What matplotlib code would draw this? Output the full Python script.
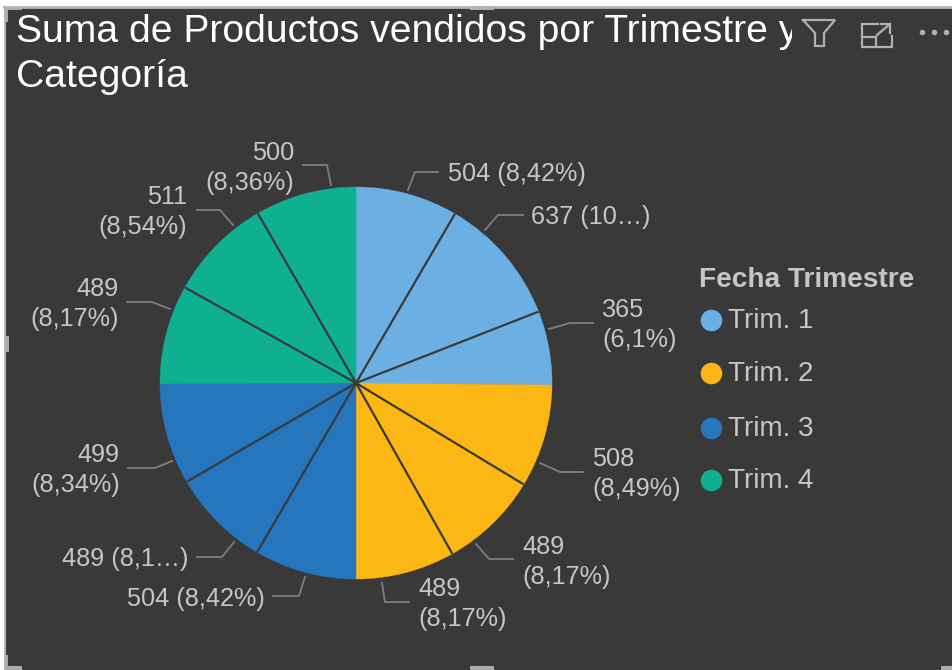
import numpy as np
import matplotlib
matplotlib.use("Agg")
import matplotlib.pyplot as plt
from matplotlib.patches import Rectangle
from matplotlib.transforms import Bbox

values = [504, 637, 365, 508, 489, 489, 504, 489, 499, 489, 511, 500]
quarters = [0, 0, 0, 1, 1, 1, 2, 2, 2, 3, 3, 3]
value_labels = ["504 (8,42%)", "637 (10…)", "365\n(6,1%)", "508\n(8,49%)", "489\n(8,17%)", "489\n(8,17%)",
                "504 (8,42%)", "489 (8,1…)", "499\n(8,34%)", "489\n(8,17%)", "511\n(8,54%)", "500\n(8,36%)"]
legend_title = "Fecha Trimestre"
legend_labels = ["Trim. 1", "Trim. 2", "Trim. 3", "Trim. 4"]
colors = ["#6CB0E3", "#FDB714", "#2676BD", "#0FB08F"]
title_lines = ["Suma de Productos vendidos por Trimestre y", "Categoría"]

BG = "#393939"; TXT = "#C6C6C6"; LEAD = "#7E7E7E"; ICON = "#B0B0B0"
W, H = 952, 670
plt.rcParams["font.family"] = ["Liberation Sans", "DejaVu Sans"]
fig = plt.figure(figsize=(W/100, H/100), dpi=100, facecolor="white")
ax = fig.add_axes([0, 0, 1, 1])
Y = lambda y: H - y

ax.add_patch(Rectangle((4, -2), W, H - 5, fc=BG, ec="none"))
ax.plot([4, W], [Y(7), Y(7)], color="#B4B4B4", lw=2)
ax.plot([4.5, 4.5], [0, Y(7)], color="#B4B4B4", lw=1.5)
# selection handles of the visual frame: x, y, w, h in image pixels
for hx, hy, hw, hh in [(4, 7, 18, 3), (4, 7, 4, 15), (470, 6, 24, 4), (4, 336, 5, 16),
                       (470, 666, 24, 4), (4, 655, 4, 15), (4, 666, 18, 4), (941, 666, 11, 4)]:
    ax.add_patch(Rectangle((hx, Y(hy + hh)), hw, hh, fc="#ABABAB", ec="none"))

cx, cy, R = 356, Y(383), 196
slice_colors = [colors[q] for q in quarters]
wedges, _ = ax.pie(values, colors=slice_colors, startangle=90, counterclock=False,
                   center=(cx, cy), radius=R, frame=False)
for w, c in zip(wedges, slice_colors):
    w.set_edgecolor(c); w.set_linewidth(0.3)
ax.set_xlim(0, W); ax.set_ylim(0, H); ax.set_aspect("auto"); ax.axis("off")

# separators only between slices of the same quarter
for i in range(len(values) - 1):
    if quarters[i] == quarters[i + 1]:
        a = np.deg2rad(wedges[i].theta1)
        ax.plot([cx, cx + R * np.cos(a)], [cy, cy + R * np.sin(a)], color="#3A3A3A", lw=1.6,
                solid_capstyle="butt")

# leader start, elbow, end, text anchor (x, y, ha), all in image pixels
layout = [
    ((408, 190), (415, 172), (438, 172), (448, 174, "left")),
    ((485, 230), (498, 215), (523, 215), (531, 217, "left")),
    ((549, 329), (570, 323), (593, 323), (602, 325, "left")),
    ((540, 463), (560, 472), (583, 472), (592, 474, "left")),
    ((476, 544), (489, 559), (513, 559), (522, 562, "left")),
    ((382, 583), (385, 602), (409, 602), (418, 604, "left")),
    ((305, 577), (299, 596), (273, 596), (265, 599, "right")),
    ((234, 542), (222, 557), (197, 557), (188, 559, "right")),
    ((172, 461), (155, 468), (128, 468), (120, 470, "right")),
    ((170, 309), (152, 302), (127, 302), (119, 304, "right")),
    ((233, 225), (220, 210), (197, 210), (187, 212, "right")),
    ((331, 185), (327, 165), (303, 165), (294, 168, "right")),
]
for lab, (start, elbow, end, (tx, ty, ha)) in zip(value_labels, layout):
    ax.plot([start[0], elbow[0], end[0]], [Y(start[1]), Y(elbow[1]), Y(end[1])],
            color=LEAD, lw=1.3, solid_joinstyle="round")
    ax.text(tx, Y(ty), lab, color=TXT, fontsize=18.2, ha=ha, va="center", multialignment=ha, linespacing=1.28)

clip = Bbox([[0, 0], [792, H]])
for y, line in zip([32, 77], title_lines):
    t = ax.text(16, Y(y), line, color="white", fontsize=28.2, ha="left", va="center")
    t.set_clip_box(clip); t.set_clip_on(True)

ax.text(699, Y(280), legend_title, color=TXT, fontsize=20.2, fontweight="bold", ha="left", va="center")
for y, lab, c in zip([320, 373, 428, 480], legend_labels, colors):
    ax.plot([711], [Y(y)], "o", ms=15.5, color=c, mec="none")
    ax.text(728, Y(y + 1), lab, color=TXT, fontsize=20, ha="left", va="center")

# toolbar icons
def stroke(pts, lw=1.6):
    ax.plot([p[0] for p in pts], [Y(p[1]) for p in pts], color=ICON, lw=lw, solid_joinstyle="miter")
stroke([(803, 20), (835, 20), (824, 33), (824, 46), (815, 46), (815, 33), (803, 20)])
stroke([(878, 24), (862, 24), (862, 47), (892, 47), (892, 36)])
stroke([(862, 37), (876, 37), (876, 47)])
stroke([(877, 35), (890, 24)])
stroke([(881, 24), (890, 24), (890, 33)])
ax.plot([922, 934, 946], [Y(32)] * 3, "o", ms=4, color=ICON, mec="none")

fig.savefig("out.png", dpi=100, facecolor="white")
